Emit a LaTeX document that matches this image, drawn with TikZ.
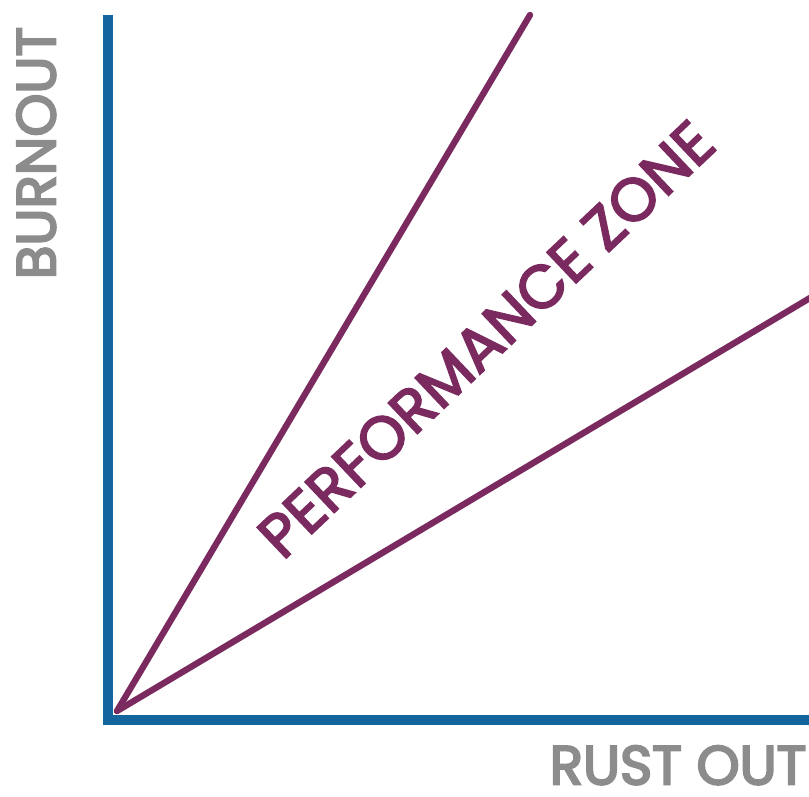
\documentclass[tikz,border=0pt]{standalone}
\usepackage{fontspec}
\setmainfont{Poppins}
\newfontfamily\axisfont{Poppins}[FakeBold=4]
\newfontfamily\zonefont{Poppins}[FakeBold=3]
\usetikzlibrary{positioning}

\definecolor{axisblue}{HTML}{14649E}
\definecolor{zonepurple}{HTML}{7A2A5F}
\definecolor{labelgray}{HTML}{8C8C8C}

\begin{document}
\begin{tikzpicture}[
        x=0.025cm, y=-0.025cm,
        axis/.style={draw=axisblue, line width=6.5pt, line join=miter},
        boundary/.style={draw=zonepurple, line width=4.5pt, line cap=round},
        axislabel/.style={text=labelgray, inner sep=0pt, text depth=0pt, font=\axisfont\fontsize{39}{39}\selectfont},
        zonelabel/.style={text=zonepurple, inner sep=0pt, text depth=0pt, font=\zonefont\fontsize{43}{43}\selectfont}
    ]
        \useasboundingbox (0,0) rectangle (809,796);

        \coordinate (ytop) at (108,15);
        \coordinate (corner) at (108,720);
        \coordinate (xend) at (815,720);
        \coordinate (origin) at (117,711);
        \coordinate (steeptip) at (530,15);
        \coordinate (shallowtip) at (815,295);

        % axes
        \draw[axis] (ytop) -- (corner) -- (xend);

        % zone boundaries
        \draw[boundary] (origin) -- (steeptip);
        \draw[boundary] (origin) -- (shallowtip);

        % labels
        \node[axislabel, rotate=90] (burnout) at (36,153) {BURNOUT};
        \node[axislabel] (rustout) at (678,765) {RUST OUT};
        \node[zonelabel, rotate=43.5] (zone) at (486,339) {PERFORMANCE ZONE};
    \end{tikzpicture}
\end{document}
